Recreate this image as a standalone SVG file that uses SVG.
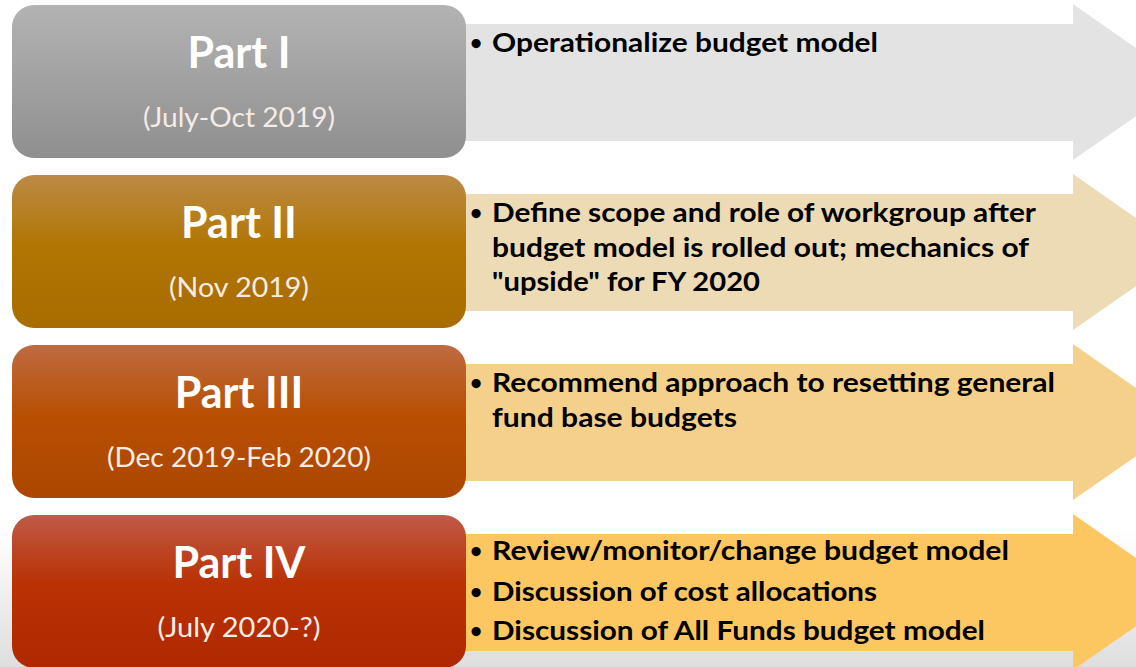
<svg xmlns="http://www.w3.org/2000/svg" width="1136" height="667" viewBox="0 0 1136 667">
  <defs>
    <linearGradient id="bg" x1="0" y1="0" x2="0" y2="1">
      <stop offset="0" stop-color="#ffffff"/>
      <stop offset="1" stop-color="#dedede"/>
    </linearGradient>
    <linearGradient id="g1" x1="0" y1="0" x2="0" y2="1">
      <stop offset="0" stop-color="#b3b3b3"/>
      <stop offset="1" stop-color="#8f8f8f"/>
    </linearGradient>
    <linearGradient id="g2" x1="0" y1="0" x2="0" y2="1">
      <stop offset="0" stop-color="#bb8a47"/>
      <stop offset="0.45" stop-color="#b27604"/>
      <stop offset="1" stop-color="#a86c00"/>
    </linearGradient>
    <linearGradient id="g3" x1="0" y1="0" x2="0" y2="1">
      <stop offset="0" stop-color="#be6b42"/>
      <stop offset="0.45" stop-color="#b85003"/>
      <stop offset="1" stop-color="#ac4600"/>
    </linearGradient>
    <linearGradient id="g4" x1="0" y1="0" x2="0" y2="1">
      <stop offset="0" stop-color="#c05a47"/>
      <stop offset="0.45" stop-color="#b93104"/>
      <stop offset="1" stop-color="#b02800"/>
    </linearGradient>
    <style>
      .box { stroke: none; }
      .title { font-family: Lato, "Open Sans", sans-serif; font-weight: bold; font-size: 43px; fill: #ffffff; text-anchor: middle; }
      .date { font-family: Lato, "Open Sans", sans-serif; font-size: 27px; fill: #f4ece6; text-anchor: middle; }
      .item { font-family: Lato, "Open Sans", sans-serif; font-weight: bold; font-size: 27px; fill: #000000; }
      .dot { font-family: Lato, "Open Sans", sans-serif; font-weight: bold; font-size: 21px; fill: #000000; }
    </style>
  </defs>

  <!-- page background with a soft grey fade at the foot -->
  <rect x="0" y="0" width="1136" height="667" fill="#ffffff"/>
  <rect x="0" y="530" width="1136" height="137" fill="url(#bg)"/>

  <!-- arrows carrying the task lists -->
  <g id="connectors">
    <polygon points="440,24 1073,24 1073,4 1185,82 1073,160 1073,141 440,141" fill="#e3e3e3"/>
    <polygon points="440,194 1073,194 1073,174 1185,252 1073,330 1073,311 440,311" fill="#eddbb5"/>
    <polygon points="440,364 1073,364 1073,344 1185,422 1073,500 1073,481 440,481" fill="#f4d08a"/>
    <polygon points="440,534 1073,534 1073,514 1185,592 1073,670 1073,651 440,651" fill="#fcc760"/>
  </g>

  <g id="part1">
    <rect class="box" x="12" y="5" width="454" height="153" rx="22" fill="url(#g1)"/>
    <text class="title" x="239" y="68">Part I</text>
    <text class="date" x="239" y="127" textLength="192" lengthAdjust="spacingAndGlyphs">(July-Oct 2019)</text>
  </g>
  <g id="part1-tasks">
    <text class="dot" x="470" y="50">•</text>
    <text class="item" x="492" y="52" textLength="386" lengthAdjust="spacingAndGlyphs">Operationalize budget model</text>
  </g>

  <g id="part2">
    <rect class="box" x="12" y="175" width="454" height="153" rx="22" fill="url(#g2)"/>
    <text class="title" x="239" y="238">Part II</text>
    <text class="date" x="239" y="297" textLength="140" lengthAdjust="spacingAndGlyphs">(Nov 2019)</text>
  </g>
  <g id="part2-tasks">
    <text class="dot" x="470" y="220">•</text>
    <text class="item" x="492" y="222" textLength="544" lengthAdjust="spacingAndGlyphs">Define scope and role of workgroup after</text>
    <text class="item" x="492" y="257" textLength="537" lengthAdjust="spacingAndGlyphs">budget model is rolled out; mechanics of</text>
    <text class="item" x="492" y="291" textLength="268" lengthAdjust="spacingAndGlyphs">"upside" for FY 2020</text>
  </g>

  <g id="part3">
    <rect class="box" x="12" y="345" width="454" height="153" rx="22" fill="url(#g3)"/>
    <text class="title" x="239" y="408">Part III</text>
    <text class="date" x="239" y="467" textLength="264" lengthAdjust="spacingAndGlyphs">(Dec 2019-Feb 2020)</text>
  </g>
  <g id="part3-tasks">
    <text class="dot" x="470" y="390">•</text>
    <text class="item" x="492" y="392" textLength="563" lengthAdjust="spacingAndGlyphs">Recommend approach to resetting general</text>
    <text class="item" x="492" y="427" textLength="245" lengthAdjust="spacingAndGlyphs">fund base budgets</text>
  </g>

  <g id="part4">
    <rect class="box" x="12" y="515" width="454" height="153" rx="22" fill="url(#g4)"/>
    <text class="title" x="239" y="578">Part IV</text>
    <text class="date" x="239" y="637" textLength="163" lengthAdjust="spacingAndGlyphs">(July 2020-?)</text>
  </g>
  <g id="part4-tasks">
    <text class="dot" x="470" y="558">•</text>
    <text class="item" x="492" y="560" textLength="517" lengthAdjust="spacingAndGlyphs">Review/monitor/change budget model</text>
    <text class="dot" x="470" y="599">•</text>
    <text class="item" x="492" y="601" textLength="385" lengthAdjust="spacingAndGlyphs">Discussion of cost allocations</text>
    <text class="dot" x="470" y="638">•</text>
    <text class="item" x="492" y="640" textLength="493" lengthAdjust="spacingAndGlyphs">Discussion of All Funds budget model</text>
  </g>
</svg>
